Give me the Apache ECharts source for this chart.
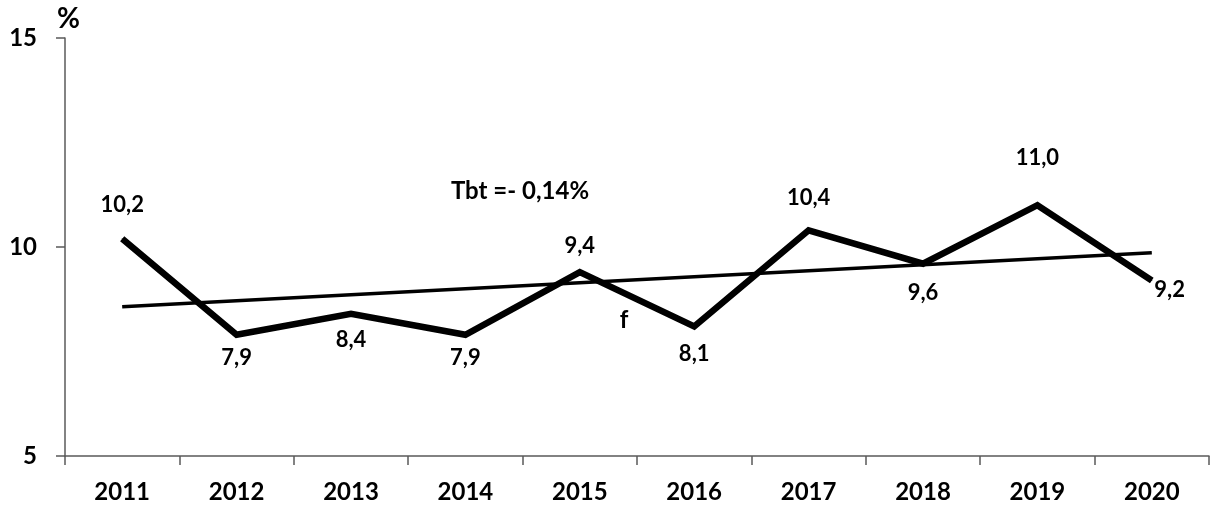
<!DOCTYPE html>
<html>
<head>
<meta charset="utf-8">
<script src="https://cdn.jsdelivr.net/npm/echarts@6/dist/echarts.min.js"></script>
<style>
  html, body { margin: 0; padding: 0; background: #fff; }
  #chart { width: 1214px; height: 506px; }
</style>
</head>
<body>
<div id="chart"></div>
<script>
// Yearly rate (%), 2011-2020
const years = ['2011', '2012', '2013', '2014', '2015', '2016', '2017', '2018', '2019', '2020'];
const rates = [10.2, 7.9, 8.4, 7.9, 9.4, 8.1, 10.4, 9.6, 11.0, 9.2];
// Linear trend: values at the first and last year
const trendEnds = [8.57, 9.86];
const yTicks = [5, 10, 15];
const trendNote = 'Tbt =- 0,14%';

const FONT = 'Lato, "Open Sans", sans-serif';

// Where each value label sits relative to its point (label placement only)
const labelPlacement = [
  ['inside', 0, -34], ['inside', 0, 23], ['inside', 0, 26], ['inside', 0, 23],
  ['inside', 0, -26], ['inside', 0, 27], ['inside', 0, -32], ['inside', 0, 29],
  ['inside', 0, -47], ['right', 0, 9]
];

const fmt = v => v.toFixed(1).replace('.', ',');

const labelStyle = {
  color: '#000',
  fontFamily: FONT,
  fontWeight: 'bold',
  fontSize: 22,
  textBorderWidth: 0,
  textBorderColor: 'transparent'
};

const lineData = rates.map((v, i) => {
  const [pos, dx, dy] = labelPlacement[i];
  return {
    value: v,
    label: Object.assign({ show: true, position: pos, offset: [dx, dy], distance: 2 }, labelStyle)
  };
});

const trendData = years.map((_, i) =>
  i === 0 ? trendEnds[0] : (i === years.length - 1 ? trendEnds[1] : null));

const chart = echarts.init(document.getElementById('chart'), null, { renderer: 'canvas' });

chart.setOption({
  animation: false,
  backgroundColor: '#ffffff',
  grid: { left: 65, right: 5, top: 38, bottom: 50, containLabel: false },
  xAxis: {
    type: 'category',
    data: years,
    boundaryGap: true,
    axisLine: { lineStyle: { color: '#5a5a5a', width: 1.5 } },
    axisTick: { show: true, length: 9, lineStyle: { color: '#5a5a5a', width: 1.5 } },
    axisLabel: {
      margin: 24,
      color: '#000',
      fontFamily: FONT,
      fontWeight: 'bold',
      fontSize: 24
    },
    splitLine: { show: false }
  },
  yAxis: {
    type: 'value',
    min: yTicks[0],
    max: yTicks[yTicks.length - 1],
    interval: yTicks[1] - yTicks[0],
    name: '%',
    nameLocation: 'end',
    nameGap: 5,
    nameTextStyle: {
      color: '#000',
      fontFamily: FONT,
      fontWeight: 'bold',
      fontSize: 28,
      align: 'left',
      padding: [0, 0, 0, -8]
    },
    axisLine: { show: true, lineStyle: { color: '#5a5a5a', width: 1.5 } },
    axisTick: { show: true, length: 9, lineStyle: { color: '#5a5a5a', width: 1.5 } },
    axisLabel: {
      margin: 28,
      color: '#000',
      fontFamily: FONT,
      fontWeight: 'bold',
      fontSize: 24
    },
    splitLine: { show: false }
  },
  series: [
    {
      type: 'line',
      data: lineData,
      symbol: 'circle',
      symbolSize: 1,
      itemStyle: { color: '#000' },
      lineStyle: { color: '#000', width: 6.5, join: 'miter' },
      label: Object.assign({ show: true, formatter: p => fmt(p.value) }, labelStyle),
      z: 3
    },
    {
      type: 'line',
      data: trendData,
      connectNulls: true,
      symbol: 'none',
      lineStyle: { color: '#000', width: 3.5 },
      z: 2
    }
  ],
  graphic: [
    {
      type: 'text',
      x: 520,
      y: 191,
      style: {
        text: trendNote,
        fill: '#000',
        font: 'bold 24px ' + FONT,
        textAlign: 'center',
        textVerticalAlign: 'middle'
      }
    },
    {
      type: 'text',
      x: 624,
      y: 320,
      style: {
        text: 'f',
        fill: '#000',
        font: 'bold 24px ' + FONT,
        textAlign: 'center',
        textVerticalAlign: 'middle'
      }
    }
  ]
});
</script>
</body>
</html>
